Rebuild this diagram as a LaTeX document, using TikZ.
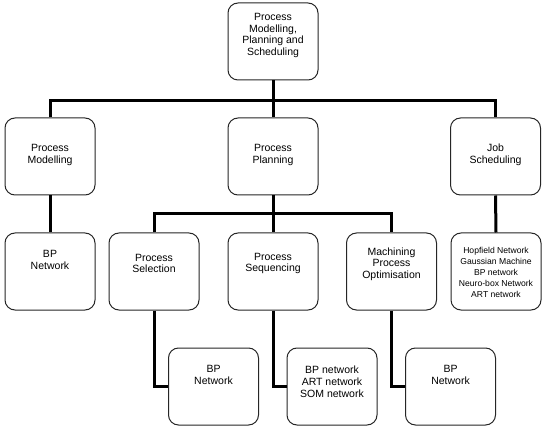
\documentclass[tikz,border=0pt]{standalone}
\usepackage{fontspec}
\setmainfont{Liberation Sans}
\begin{document}
\begin{tikzpicture}[x=1pt,y=-1pt,
  box/.style={draw=black!85, line width=1pt, rounded corners=10pt, minimum width=90pt, minimum height=77pt, inner sep=0pt, fill=white},
  lbl/.style={align=center, font=\fontsize{10.5}{11.7}\selectfont, inner sep=0pt},
  smalllbl/.style={align=center, font=\fontsize{8.6}{10.9}\selectfont, inner sep=0pt},
  conn/.style={line width=3pt, draw=black}]
\useasboundingbox (0,0) rectangle (551,430);
% boxes
\node[box] (top) at (273,41.5) {};
\node[box] (pm) at (50,156.5) {};
\node[box] (pp) at (273,156.5) {};
\node[box] (js) at (495.5,156.5) {};
\node[box] (bp1) at (50,271.5) {};
\node[box] (ps) at (154,271.5) {};
\node[box] (seq) at (273,271.5) {};
\node[box] (mpo) at (391.5,271.5) {};
\node[box] (hop) at (496,271.5) {};
\node[box] (bpsel) at (213.5,386.5) {};
\node[box] (seqc) at (332,386.5) {};
\node[box] (mpoc) at (450.5,386.5) {};
% labels
\node[lbl] (ttop) at (273,35.5) {Process\\Modelling,\\Planning and\\Scheduling};
\node[lbl] (tpm) at (50,155) {Process\\Modelling};
\node[lbl] (tpp) at (273,155) {Process\\Planning};
\node[lbl] (tjs) at (495.5,155) {Job\\Scheduling};
\node[lbl] (tbp1) at (50,260) {BP\\Network};
\node[lbl] (tps) at (154,263.5) {Process\\Selection};
\node[lbl] (tseq) at (273,263.5) {Process\\Sequencing};
\node[lbl] (tmpo) at (391.5,264) {Machining\\Process\\Optimisation};
\node[smalllbl] (thop) at (496,272.5) {Hopfield Network\\Gaussian Machine\\BP network\\Neuro-box Network\\ART network};
\node[lbl] (tbpsel) at (213.5,375) {BP\\Network};
\node[lbl] (tseqc) at (332,381.7) {BP network\\ART network\\SOM network};
\node[lbl] (tmpoc) at (450.5,375) {BP\\Network};
% connectors
\coordinate (J) at (273,100.5);
\coordinate (K) at (273,214);
\draw[conn] (pm.north) |- (J) -| (js.north);
\draw[conn] (top.south) -- (pp.north);
\draw[conn] (ps.north) |- (K) -| (mpo.north);
\draw[conn] (pp.south) -- (seq.north);
\draw[conn] (pm.south) -- (bp1.north);
\draw[conn] (js.south) -- (hop.north);
\draw[conn] (ps.south) |- (bpsel.west);
\draw[conn] (seq.south) |- (seqc.west);
\draw[conn] (mpo.south) |- (mpoc.west);
\end{tikzpicture}
\end{document}
